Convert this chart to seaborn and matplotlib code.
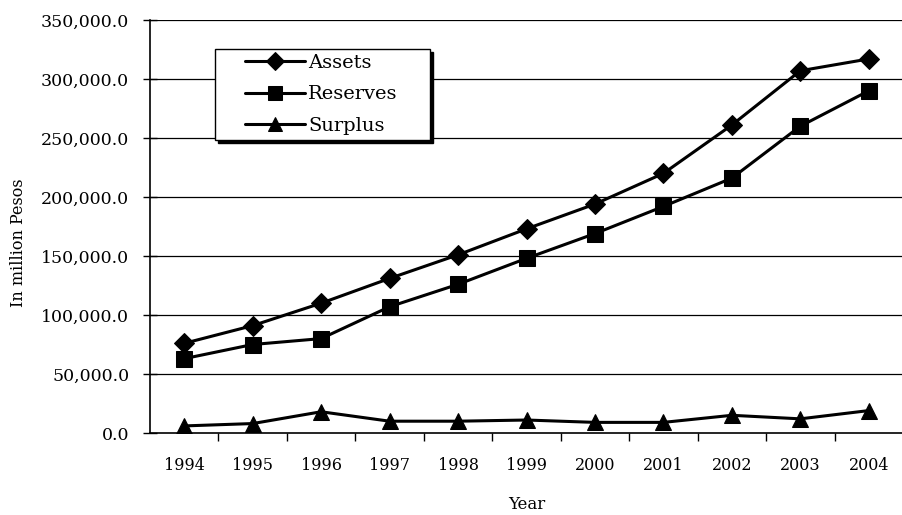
import numpy as np
import pandas as pd
import matplotlib
matplotlib.use("Agg")
import matplotlib.pyplot as plt
import seaborn as sns
from matplotlib.lines import Line2D
from matplotlib.legend_handler import HandlerLine2D
from matplotlib.ticker import FuncFormatter, FixedLocator

years = [1994, 1995, 1996, 1997, 1998, 1999, 2000, 2001, 2002, 2003, 2004]
assets = [76000, 91000, 110000, 131000, 151000, 173000, 194000, 220000, 261000, 307000, 317000]
reserves = [63000, 75000, 80000, 107000, 126000, 148000, 169000, 192000, 216000, 260000, 290000]
surplus = [6000, 8000, 18000, 10000, 10000, 11000, 9000, 9000, 15000, 12000, 19000]

sns.set_theme(style="white")
plt.rcParams['font.family'] = ['DejaVu Serif']
plt.rcParams.update({'text.color': 'black', 'axes.labelcolor': 'black',
                     'xtick.color': 'black', 'ytick.color': 'black'})

df = pd.DataFrame({'Year': years, 'Assets': assets, 'Reserves': reserves, 'Surplus': surplus})
long = df.melt(id_vars='Year', var_name='series', value_name='value')

fig = plt.figure(figsize=(9.03, 5.15), dpi=100)
ax = fig.add_axes([150 / 903, 1 - 433 / 515, 1 - 150 / 903, (433 - 20) / 515])

# horizontal grid lines first, under the data
for v in range(50000, 350001, 50000):
    ax.axhline(v, color='black', lw=0.9, zorder=1)

sns.lineplot(data=long, x='Year', y='value', hue='series', style='series',
             palette=['black', 'black', 'black'],
             markers={'Assets': 'D', 'Reserves': 's', 'Surplus': '^'},
             dashes=False, markersize=11, linewidth=2.2,
             markeredgecolor='black', ax=ax, zorder=3)
# diamonds look bigger than squares at the same size
for ln in ax.lines:
    if ln.get_marker() == 'D':
        ln.set_markersize(10.5)

ax.set_xlim(1993.5, 2004.5)
ax.set_ylim(0, 350000)
ax.set_xticks(years)
ax.xaxis.set_minor_locator(FixedLocator(np.arange(1994.5, 2004.5, 1)))
ax.tick_params(axis='x', which='major', length=0, pad=17, labelsize=11.5)
ax.tick_params(axis='x', which='minor', length=6, width=1, direction='out', bottom=True)
ax.set_yticks(range(0, 350001, 50000))
ax.yaxis.set_major_formatter(FuncFormatter(lambda v, p: f"{v:,.1f}"))
ax.tick_params(axis='y', length=10, width=1, direction='inout', labelsize=12.5, left=True, pad=10)

for s in ['top', 'right']:
    ax.spines[s].set_visible(False)
for s in ['left', 'bottom']:
    ax.spines[s].set_color('black')
    ax.spines[s].set_linewidth(1.2)

ax.set_xlabel('Year', fontsize=12, labelpad=16)
ax.set_ylabel('In million Pesos', fontsize=11.5)
ax.yaxis.set_label_coords(-0.163, 0.46)

# legend: handle line starts a bit inside the frame, frame stretched to the right
handles, labels = ax.get_legend_handles_labels()
leg = ax.legend(handles, labels, loc='upper left', mode='expand',
                bbox_to_anchor=(65 / 753, 0.5, 215 / 753, 0.43), fontsize=14,
                frameon=True, fancybox=False, shadow={'color': 'black', 'alpha': 1},
                edgecolor='black', handlelength=4.4, borderpad=0.25, labelspacing=0.7,
                handletextpad=0.15, borderaxespad=0, markerscale=0.9,
                handler_map={Line2D: HandlerLine2D(xpad=1.3)})
leg.get_frame().set_linewidth(1.0)
leg.set_zorder(5)

fig.savefig('out.png', dpi=100)
